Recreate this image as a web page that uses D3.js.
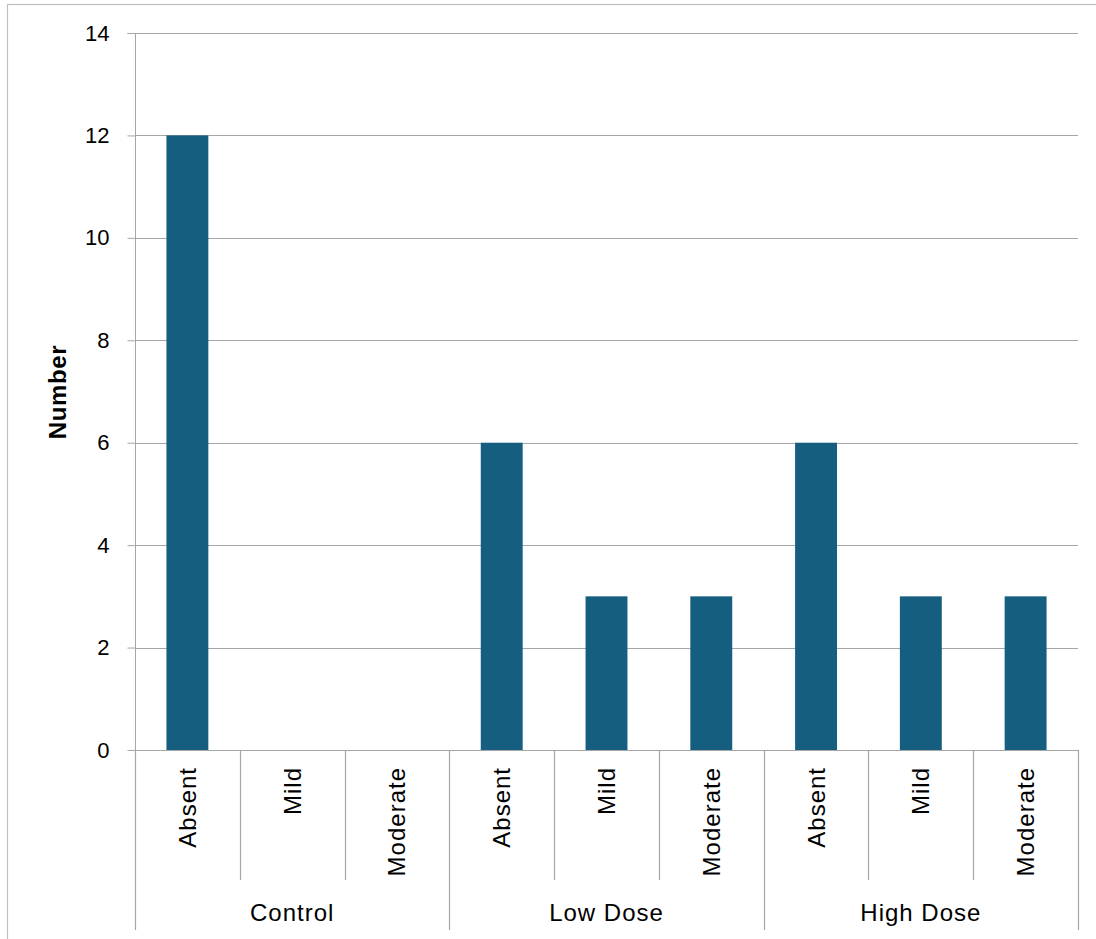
<!DOCTYPE html>
<html>
<head>
<meta charset="utf-8">
<script src="https://cdn.jsdelivr.net/npm/d3@7"></script>
<style>
  html, body { margin: 0; padding: 0; background: #fff; }
  text { font-family: "Liberation Sans", Arial, sans-serif; fill: #000; }
</style>
</head>
<body>
<svg id="chart" width="1096" height="939"></svg>
<script>
// Groups and severity levels shown on the two-level x axis
const groups = ["Control", "Low Dose", "High Dose"];
const levels = ["Absent", "Mild", "Moderate"];
// Counts per group, in the order of levels
const controlValues = [12, 0, 0];
const lowDoseValues = [6, 3, 3];
const highDoseValues = [6, 3, 3];
const yTicks = [0, 2, 4, 6, 8, 10, 12, 14];

const seriesByGroup = [controlValues, lowDoseValues, highDoseValues];
const rows = [];
groups.forEach((g, gi) => levels.forEach((l, li) => {
  rows.push({ key: g + "|" + l, group: g, level: l, value: seriesByGroup[gi][li] });
}));

const svg = d3.select("#chart");
const plotLeft = 135, plotRight = 1078, plotTop = 33, plotBottom = 750;

// outer chart frame
svg.append("rect")
  .attr("x", 7.5).attr("y", 4.5)
  .attr("width", 1100).attr("height", 950)
  .attr("fill", "none").attr("stroke", "#bfbfbf").attr("stroke-width", 1.2);

const x = d3.scaleBand().domain(rows.map(d => d.key)).range([plotLeft, plotRight]).paddingInner(0.6).paddingOuter(0.3);
const slot = d3.scaleBand().domain(rows.map(d => d.key)).range([plotLeft, plotRight]);
const y = d3.scaleLinear().domain([0, 14]).range([plotBottom, plotTop]);

const gridColor = "#a6a6a6";

// horizontal gridlines
svg.append("g").selectAll("line").data(yTicks.filter(t => t > 0)).join("line")
  .attr("x1", plotLeft).attr("x2", plotRight)
  .attr("y1", d => Math.round(y(d)) + 0.5).attr("y2", d => Math.round(y(d)) + 0.5)
  .attr("stroke", gridColor).attr("stroke-width", 1);

// bars
svg.append("g").selectAll("rect").data(rows).join("rect")
  .attr("x", d => x(d.key)).attr("width", x.bandwidth())
  .attr("y", d => y(d.value)).attr("height", d => y(0) - y(d.value))
  .attr("fill", "#165e80");

// y axis
const yAxis = svg.append("g").attr("transform", `translate(${plotLeft + 0.5},0)`)
  .call(d3.axisLeft(y).tickValues(yTicks).tickSize(8).tickPadding(18));
yAxis.select(".domain").attr("stroke", gridColor).attr("d", `M-8,${plotTop + 0.5}H0V${plotBottom}`);
yAxis.selectAll(".tick line").attr("stroke", gridColor);
yAxis.selectAll(".tick text").style("font-size", "22px").attr("fill", "#000")
  .style("font-family", "'Liberation Sans', Arial, sans-serif");

// y axis title
svg.append("text")
  .attr("transform", `translate(66,392) rotate(-90)`)
  .attr("text-anchor", "middle")
  .style("font-size", "24px").style("font-weight", "bold")
  .style("letter-spacing", "0.6px")
  .text("Number");

// x axis baseline
svg.append("line").attr("x1", plotLeft).attr("x2", plotRight)
  .attr("y1", plotBottom + 0.5).attr("y2", plotBottom + 0.5)
  .attr("stroke", gridColor);

// separators between levels and between groups
const keys = rows.map(d => d.key);
const seps = d3.range(0, keys.length + 1).map(i => ({
  xpos: i < keys.length ? slot(keys[i]) : plotRight,
  isGroup: i % levels.length === 0
}));
svg.append("g").selectAll("line").data(seps).join("line")
  .attr("x1", d => Math.round(d.xpos) + 0.5).attr("x2", d => Math.round(d.xpos) + 0.5)
  .attr("y1", plotBottom).attr("y2", d => d.isGroup ? 930 : 880)
  .attr("stroke", gridColor).attr("stroke-width", 1.2);

// level labels, rotated
svg.append("g").selectAll("text").data(rows).join("text")
  .attr("transform", d => `translate(${slot(d.key) + slot.bandwidth() / 2 + 8.5},767) rotate(-90)`)
  .attr("text-anchor", "end")
  .style("font-size", "24px")
  .style("letter-spacing", "1px")
  .text(d => d.level);

// group labels
svg.append("g").selectAll("text").data(groups).join("text")
  .attr("x", (g, i) => {
    const first = slot(keys[i * levels.length]);
    return first + slot.bandwidth() * levels.length / 2;
  })
  .attr("y", 921)
  .attr("text-anchor", "middle")
  .style("font-size", "24px")
  .style("letter-spacing", "1px")
  .text(d => d);
</script>
</body>
</html>
